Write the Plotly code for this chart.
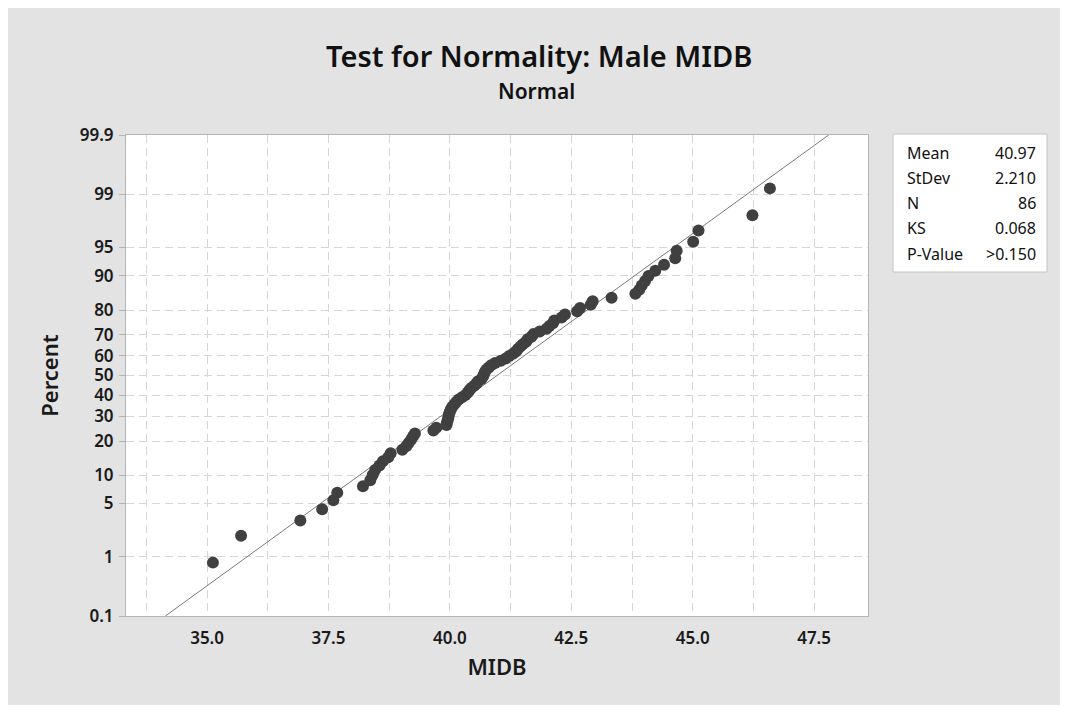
import plotly.graph_objects as go
from statistics import NormalDist

# ---- data (sorted MIDB values, N = 86) ----
midb = [35.12, 35.70, 36.92, 37.37, 37.60, 37.68, 38.21, 38.36, 38.41, 38.46,
        38.55, 38.62, 38.73, 38.78, 39.02, 39.10, 39.15, 39.20, 39.24, 39.28,
        39.66, 39.72,
        39.93, 39.94, 39.96, 39.97, 39.98, 40.00, 40.02, 40.05,
        40.09, 40.13, 40.18, 40.25, 40.32, 40.37, 40.40, 40.44, 40.50, 40.55,
        40.58, 40.65, 40.68, 40.70, 40.72, 40.75, 40.80, 40.85, 40.93, 41.05,
        41.15, 41.22, 41.30, 41.36, 41.40, 41.45, 41.50, 41.57, 41.60, 41.68,
        41.72, 41.85, 41.99, 42.05, 42.12, 42.15, 42.30, 42.37, 42.62, 42.68,
        42.90, 42.94, 43.33, 43.82, 43.90, 43.95, 44.02, 44.09, 44.23, 44.41,
        44.64, 44.67, 45.01, 45.12, 46.23, 46.59]

stat_labels = ["Mean", "StDev", "N", "KS", "P-Value"]
stat_values = ["40.97", "2.210", "86", "0.068", ">0.150"]
MEAN = 40.97
STDEV = 2.210

percent_ticks = [0.1, 1, 5, 10, 20, 30, 40, 50, 60, 70, 80, 90, 95, 99, 99.9]
percent_text = ["0.1", "1", "5", "10", "20", "30", "40", "50", "60", "70",
                "80", "90", "95", "99", "99.9"]
x_ticks = [35.0, 37.5, 40.0, 42.5, 45.0, 47.5]
x_text = ["35.0", "37.5", "40.0", "42.5", "45.0", "47.5"]

nd = NormalDist()
n = len(midb)
# median-rank (Benard) plotting positions, on the normal-probability scale
z_pts = [nd.inv_cdf((i - 0.3) / (n + 0.4)) for i in range(1, n + 1)]
z_ticks = [nd.inv_cdf(p / 100) for p in percent_ticks]
zlo, zhi = z_ticks[0], z_ticks[-1]

FONT = "Noto Sans"
fig = go.Figure()

# fitted normal line
fig.add_trace(go.Scatter(
    x=[MEAN + STDEV * zlo, MEAN + STDEV * zhi], y=[zlo, zhi],
    mode="lines", line=dict(color="#7a7a7a", width=1), hoverinfo="skip"))

fig.add_trace(go.Scatter(
    x=midb, y=z_pts, mode="markers",
    marker=dict(color="#404040", size=12, line=dict(width=0))))

# the page body has an 8px margin; positions below are page pixels
OFF = 8
W, H = 1052, 697
L, T = 126 - OFF, 135 - OFF
R = W - (868 - OFF)
B = H - (616 - OFF)
pw, ph = W - L - R, H - T - B

def px(xp):
    return (xp - OFF - L) / pw

def py(yp):
    return (H - B - (yp - OFF)) / ph

grid = dict(gridcolor="#d6d6d6", griddash="8px,5px", gridwidth=1)
tick_font = dict(size=17, weight=600, color="#1a1a1a")

fig.update_layout(
    width=W, height=H,
    margin=dict(l=L, r=R, t=T, b=B),
    paper_bgcolor="#e3e3e3", plot_bgcolor="white",
    showlegend=False,
    font=dict(family=FONT, color="#1a1a1a", size=16),
    xaxis=dict(range=[33.33, 48.61], tickvals=x_ticks, ticktext=x_text,
               showgrid=True, **grid, zeroline=False,
               minor=dict(dtick=1.25, tick0=35, showgrid=True, **grid),
               showline=True, linecolor="#b4b4b4", mirror=True, ticks="",
               tickfont=tick_font, ticklabelstandoff=7,
               title=dict(text="MIDB", font=dict(size=22, weight=600),
                          standoff=11)),
    yaxis=dict(range=[zlo, zhi], tickvals=z_ticks, ticktext=percent_text,
               showgrid=True, **grid, zeroline=False,
               showline=True, linecolor="#b4b4b4", mirror=True,
               ticks="outside", ticklen=6, tickcolor="#b4b4b4",
               tickfont=tick_font, ticklabelstandoff=2,
               title=dict(text="Percent", font=dict(size=22, weight=600),
                          standoff=15)),
    shapes=[
        dict(type="rect", xref="paper", yref="paper", layer="below",
             x0=px(7), x1=px(1062), y0=py(708), y1=py(5),
             fillcolor="rgba(0,0,0,0)", line=dict(color="#cccccc", width=1.5)),
        dict(type="rect", xref="paper", yref="paper", layer="above",
             x0=px(893), x1=px(1047), y0=py(272), y1=py(134),
             fillcolor="white", line=dict(color="#c4c4c4", width=1)),
    ],
)

ann = [
    dict(text="Test for Normality: Male MIDB", x=px(539), y=py(56),
         font=dict(size=29, weight=600, color="#111")),
    dict(text="Normal", x=px(536), y=py(91),
         font=dict(size=21, weight=600, color="#111")),
]
row_y = [153, 178, 203, 228, 254]
for lab, val, yy in zip(stat_labels, stat_values, row_y):
    ann.append(dict(text=lab, x=px(905), y=py(yy), xanchor="left",
                    font=dict(size=16, color="#111")))
    ann.append(dict(text=val, x=px(1038), y=py(yy), xanchor="right",
                    font=dict(size=16, color="#111")))
for a in ann:
    a.setdefault("xanchor", "center")
    a.update(xref="paper", yref="paper", yanchor="middle", showarrow=False)
fig.update_layout(annotations=ann)

fig.write_html("out.html")
